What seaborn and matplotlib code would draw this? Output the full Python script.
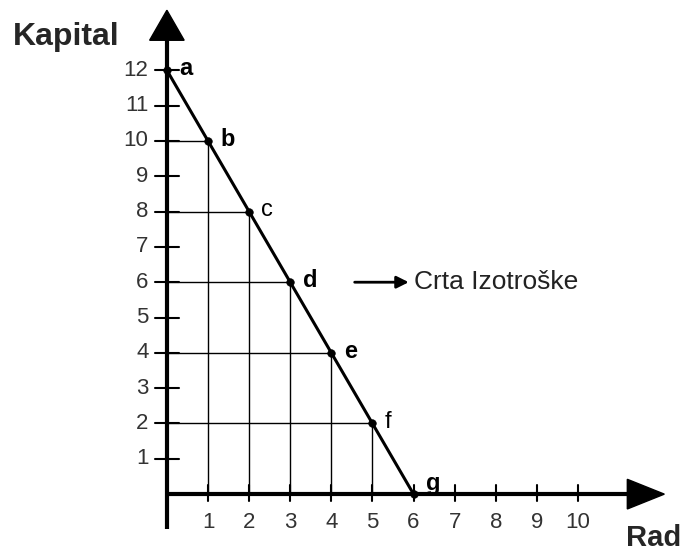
import matplotlib
matplotlib.use("Agg")
import matplotlib.pyplot as plt
import seaborn as sns
import pandas as pd
from matplotlib.patches import Polygon

sns.set_theme(style="white")
plt.rcParams['font.family'] = ['Liberation Sans', 'DejaVu Sans']

rad = [0, 1, 2, 3, 4, 5, 6]
kapital = [12, 10, 8, 6, 4, 2, 0]
labels = ['a', 'b', 'c', 'd', 'e', 'f', 'g']
label_bold = [True, True, False, True, True, False, True]
x_ticks = [1, 2, 3, 4, 5, 6, 7, 8, 9, 10]
y_ticks = [1, 2, 3, 4, 5, 6, 7, 8, 9, 10, 11, 12]
df = pd.DataFrame({'Rad': rad, 'Kapital': kapital})

fig = plt.figure(figsize=(6.82, 5.51), dpi=100)
ax = fig.add_axes([0, 0, 1, 1])

# guide lines under the line
for x, y in zip(rad[1:-1], kapital[1:-1]):
    ax.plot([0, x], [y, y], color='black', lw=1.0, zorder=1)
    ax.plot([x, x], [0, y], color='black', lw=1.0, zorder=1)

# axes
ax.plot([0, 0], [-1.0, 12.9], color='black', lw=3, zorder=2, solid_capstyle='butt')
ax.plot([0, 11.3], [0, 0], color='black', lw=3, zorder=2, solid_capstyle='butt')
ax.add_patch(Polygon([[-0.42, 12.85], [0.42, 12.85], [0, 13.7]], closed=True,
                     color='black', zorder=3))
ax.add_patch(Polygon([[11.2, 0.42], [11.2, -0.42], [12.1, 0]], closed=True,
                     color='black', zorder=3))

# ticks
for y in y_ticks:
    ax.plot([-0.3, 0.3], [y, y], color='black', lw=1.5, zorder=2)
    ax.text(-0.45, y, str(y), ha='right', va='center', fontsize=16, color='#333333')
for x in x_ticks:
    ax.plot([x, x], [-0.2, 0.25], color='black', lw=1.5, zorder=2)
    ax.text(x, -0.8, str(x), ha='center', va='center', fontsize=16, color='#333333')

# iso-cost line and points
sns.lineplot(data=df, x='Rad', y='Kapital', color='black', lw=2.2, ax=ax, zorder=4)
sns.scatterplot(data=df, x='Rad', y='Kapital', color='black', s=30, ax=ax, zorder=5,
                edgecolor='black')
ax.set_xlim(-4.06, 12.53)
ax.set_ylim(-1.61, 13.99)
ax.axis('off')

for x, y, lab, b in zip(rad, kapital, labels, label_bold):
    ax.text(x + 0.3, y + (0.05 if lab != 'g' else 0.3), lab, ha='left', va='center',
            fontsize=17, fontweight='bold' if b else 'normal', color='black')

ax.text(-3.75, 12.95, 'Kapital', ha='left', va='center', fontsize=23, fontweight='bold')
ax.text(12.5, -1.25, 'Rad', ha='right', va='center', fontsize=21, fontweight='bold')

ax.annotate('', xy=(5.95, 6), xytext=(4.5, 6),
            arrowprops=dict(arrowstyle='-|>', color='black', lw=2, mutation_scale=18))
ax.text(6.0, 6, 'Crta Izotroške', ha='left', va='center', fontsize=19, color='#222222')

fig.savefig('out.png', dpi=100)
